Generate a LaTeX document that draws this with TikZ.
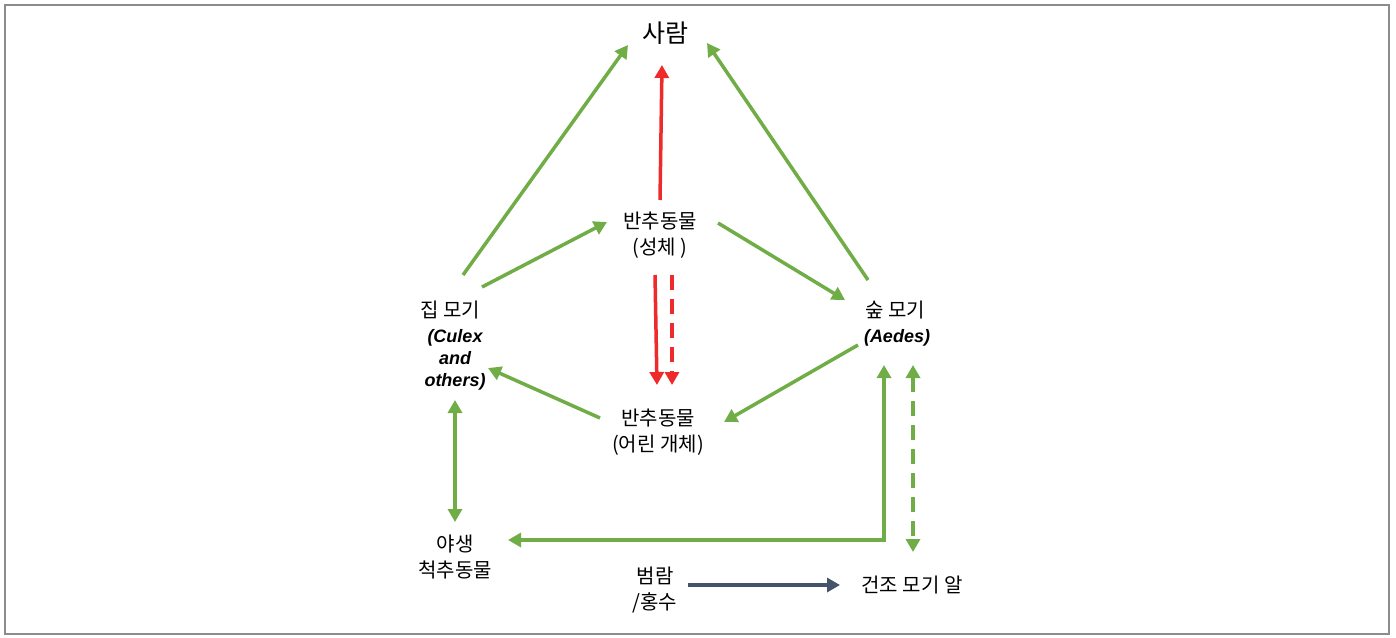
\documentclass[tikz,border=0pt]{standalone}
\usepackage{fontspec}
\setmainfont{Noto Sans CJK KR}
\newfontfamily\latinit{Liberation Sans}
\usetikzlibrary{arrows.meta,calc}
\definecolor{grn}{HTML}{70AD47}
\definecolor{rd}{HTML}{EE2A2A}
\definecolor{slate}{HTML}{44546A}
\definecolor{frame}{HTML}{8C8C8C}
\begin{document}
\begin{tikzpicture}[x=1pt,y=-1pt,
  lbl/.style={inner sep=0pt, align=center, font=\fontsize{20}{25.5}\selectfont},
  sci/.style={inner sep=0pt, align=center, font=\fontsize{18}{22}\selectfont\latinit\itshape\bfseries},
  tipstyle/.style={-{Triangle[length=13pt,width=14pt]}},
  dbl/.style={{Triangle[length=13pt,width=14pt]}-{Triangle[length=13pt,width=14pt]}},
  garrow/.style={draw=grn, line width=3.5pt, tipstyle},
  rarrow/.style={draw=rd, line width=3.5pt, tipstyle},
  sarrow/.style={draw=slate, line width=3.5pt, tipstyle},
  dsh/.style={dash pattern=on 15pt off 9pt}
]
\useasboundingbox (0,0) rectangle (1396,637);
\draw[frame, line width=1.5pt] (5,5) rectangle (1389,634);

\node[lbl, font=\fontsize{25}{28}\selectfont] (saram) at (665,33) {사람};
\node[lbl] (adult) at (660,235) {반추동물\\(성체 )};
\node[lbl] (young) at (658,432) {반추동물\\(어린 개체)};
\node[lbl] (jip) at (450,310) {집 모기};
\node[sci] (culex) at (455,360) {(Culex\\and\\others)};
\node[lbl] (sup) at (895,310) {숲 모기};
\node[sci] (aedes) at (897,338) {(Aedes)};
\node[lbl] (wild) at (455,557) {야생\\척추동물};
\node[lbl] (flood) at (655,590) {범람\\/홍수};
\node[lbl] (egg) at (912,585) {건조 모기 알};

\coordinate (corner) at (884,540);

\draw[garrow] ($(jip)+(13,-35)$) -- ($(saram)+(-37,12)$);
\draw[garrow] ($(sup)+(-27,-30)$) -- ($(saram)+(42,10)$);
\draw[rarrow] ($(adult)+(0,-35)$) -- ($(saram)+(-3,32)$);
\draw[garrow] ($(jip)+(32,-23)$) -- ($(adult)+(-53,-13)$);
\draw[garrow] ($(adult)+(58,-12)$) -- ($(sup)+(-50,-10)$);
\draw[rarrow] ($(adult)+(-5,40)$) -- ($(young)+(-1,-47)$);
\draw[rarrow, dsh] ($(adult)+(12,40)$) -- ($(young)+(14,-47)$);
\draw[garrow] ($(young)+(-58,-14)$) -- ($(culex)+(33,8)$);
\draw[garrow] ($(aedes)+(-39,7)$) -- ($(young)+(66,-10)$);
\draw[garrow, dbl] ($(culex)+(0,40)$) -- ($(wild)+(0,-35)$);
\draw[garrow, dbl] ($(wild)+(53,-17)$) -- (corner) -- ($(aedes)+(-13,27)$);
\draw[garrow, dsh, dbl] ($(aedes)+(16,27)$) -- ($(egg)+(1,-33)$);
\draw[sarrow] ($(flood)+(33,-5)$) -- ($(egg)+(-72,0)$);
\end{tikzpicture}
\end{document}
